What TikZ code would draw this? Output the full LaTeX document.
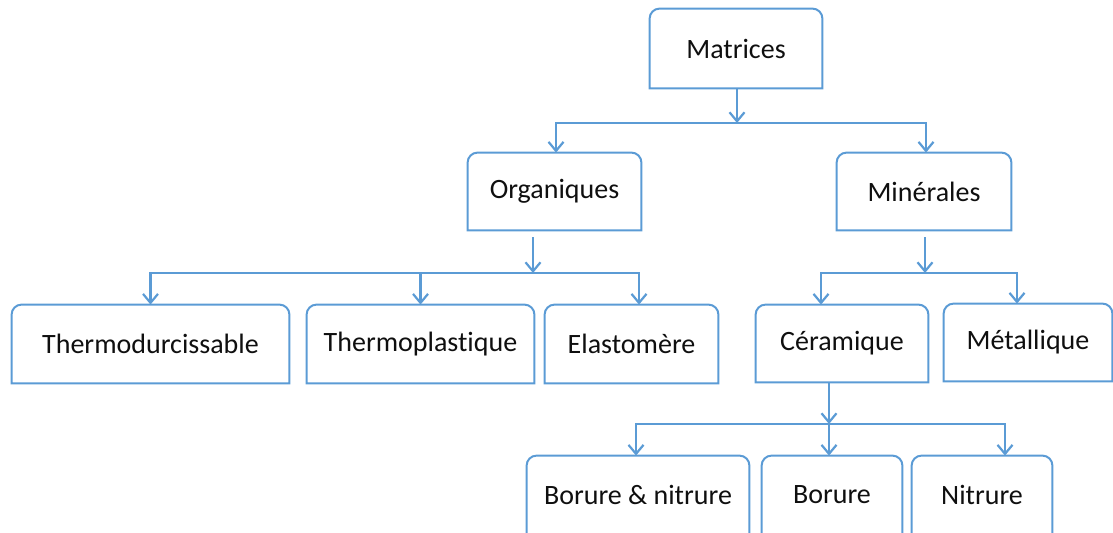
\documentclass[tikz,border=0pt]{standalone}
\usepackage{fontspec}
\setmainfont{Carlito}[Ligatures=NoCommon]
\usetikzlibrary{arrows.meta}
\definecolor{bleu}{RGB}{91,155,213}
\definecolor{texte}{RGB}{15,15,15}

\begin{document}
\begin{tikzpicture}[x=0.5pt,y=-0.5pt,
  every node/.style={font=\fontsize{14}{16}\selectfont, text=texte},
  boite/.style={inner sep=0pt, minimum height=39pt},
  lien/.style={draw=bleu, line width=1.1pt, -{Straight Barb[length=4.5pt,width=7.5pt]}},
  cadre/.style={draw=bleu, line width=1pt}]
\useasboundingbox (0,0) rectangle (1113,533);
% niveau 0
\node[boite, minimum width=86pt, minimum height=39.5pt] (mat) at (736,48.5) {Matrices};
% niveau 1
\node[boite, minimum width=86.5pt, minimum height=38.5pt] (org) at (554.5,191.5) {Organiques};
\node[boite, minimum width=87pt, minimum height=38.5pt] (min) at (924,191.5) {Minérales};
% niveau 2
\node[boite, minimum width=138.5pt] (thd) at (150.5,344) {Thermodurcissable};
\node[boite, minimum width=113.5pt] (thp) at (420.5,344) {Thermoplastique};
\node[boite, minimum width=86.5pt] (ela) at (631.5,344) {Elastomère};
\node[boite, minimum width=86pt, minimum height=38.5pt] (cer) at (842,343.5) {Céramique};
\node[boite, minimum width=84pt, minimum height=38.5pt] (met) at (1028,342.5) {Métallique};
% niveau 3
\node[boite, minimum width=111pt] (bn) at (638,495) {Borure \& nitrure};
\node[boite, minimum width=70pt] (bo) at (832,495) {Borure};
\node[boite, minimum width=70pt] (ni) at (982,495) {Nitrure};
% cadres (coins arrondis en haut seulement)
\foreach \n in {mat,org,min,thd,thp,ela,cer,met,bn,bo,ni}
  \draw[cadre] (\n.south west) [rounded corners=5pt] -- (\n.north west) -- (\n.north east) [sharp corners] -- (\n.south east) -- cycle;
% jonctions
\coordinate (j1) at (737,123);
\coordinate (j2) at (533,273);
\coordinate (j3) at (925,273);
\coordinate (j4) at (829,424);
% liens
\draw[lien] (mat.south -| j1) -- (j1);
\draw[lien] (j1) -| ([xshift=0.75pt]org.north);
\draw[lien] (j1) -| ([xshift=1pt]min.north);
\draw[lien, shorten <=3.5pt] (org.south -| j2) -- (j2);
\draw[lien] (j2) -| (thd.north);
\draw[lien] (j2) -| (thp.north);
\draw[lien] (j2) -| ([xshift=3.75pt]ela.north);
\draw[lien, shorten <=3.5pt] (min.south -| j3) -- (j3);
\draw[lien] (j3) -| ([xshift=-10.5pt]cer.north);
\draw[lien] (j3) -| ([xshift=-5.5pt]met.north);
\draw[lien] (cer.south -| j4) -- (j4);
\draw[lien] (j4) -| ([xshift=-1pt]bn.north);
\draw[lien] (j4) -- (bo.north -| j4);
\draw[lien] (j4) -| ([xshift=11.5pt]ni.north);
\end{tikzpicture}
\end{document}
